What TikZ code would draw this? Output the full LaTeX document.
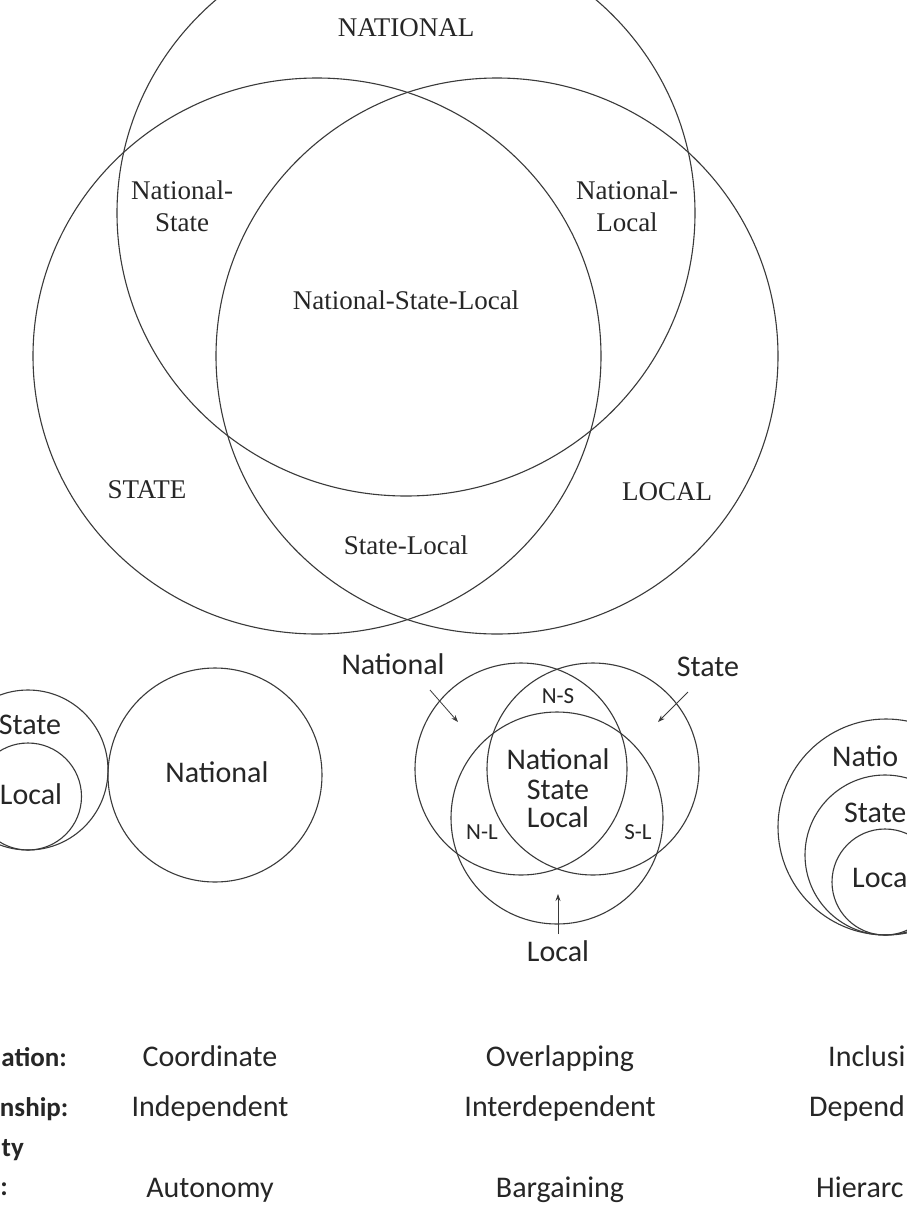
\documentclass[tikz,border=0pt]{standalone}
\usepackage{fontspec}
\setmainfont{Liberation Serif}
\newfontfamily\sansf{Carlito}
\usetikzlibrary{arrows.meta}
\definecolor{linec}{HTML}{3A3A3A}
\definecolor{txt}{HTML}{262626}
\begin{document}
\begin{tikzpicture}[x=1pt,y=-1pt,
  ring/.style={circle,draw=linec,line width=1.1pt,inner sep=0pt,minimum size=#1},
  ringl/.style={draw=linec,line width=1.1pt},
  seriflab/.style={text=txt,font=\fontsize{27}{32}\selectfont,inner sep=0pt,anchor=base},
  sanslab/.style={text=txt,font=\sansf\fontsize{30}{29}\selectfont,inner sep=0pt,anchor=base},
  smalllab/.style={text=txt,font=\sansf\fontsize{23}{26}\selectfont,inner sep=0pt,anchor=base},
  rowlab/.style={text=txt,font=\sansf\bfseries\fontsize{27}{32}\selectfont,inner sep=0pt,anchor=base east},
  arr/.style={draw=linec,line width=0.8pt,-{Stealth[length=7pt,width=5pt]}}
]
\fill[white] (0,0) rectangle (906,1221);
\useasboundingbox (0,0) rectangle (906,1221);

% ---------- top Venn ----------
\coordinate (bigN) at (406,213);
\coordinate (bigS) at (317,356);
\coordinate (bigL) at (497,356);
\draw[ringl] (bigN) ellipse [x radius=289pt, y radius=283pt];
\draw[ringl] (bigS) ellipse [x radius=284pt, y radius=278pt];
\draw[ringl] (bigL) ellipse [x radius=281pt, y radius=278pt];
\node[seriflab] (tN)    at (406,36)  {NATIONAL};
\node[seriflab] (tNS1)  at (182,199) {National-};
\node[seriflab] (tNS2)  at (182,231) {State};
\node[seriflab] (tNL1)  at (627,199) {National-};
\node[seriflab] (tNL2)  at (627,231) {Local};
\node[seriflab] (tNSL)  at (406,309) {National-State-Local};
\node[seriflab] (tS)    at (147,498) {STATE};
\node[seriflab] (tL)    at (667,500) {LOCAL};
\node[seriflab] (tSL)   at (406,554) {State-Local};

% ---------- coordinate model ----------
\node[ring=160pt] (cS) at (28,770) {};
\node[ring=107pt] (cL) at (28,796.5) {};
\node[ring=214pt] (cN) at (215,775) {};
\node[sanslab] (cSt) at (30,734.5) {State};
\node[sanslab] (cLt) at (31,804.5) {Local};
\node[sanslab] (cNt) at (217,782.5) {National};

% ---------- overlapping model ----------
\node[ring=212pt] (oN) at (521,769) {};
\node[ring=212pt] (oS) at (593,769) {};
\node[ring=212pt] (oL) at (557,818) {};
\node[sanslab] (oNt) at (393,674.5) {National};
\node[sanslab] (oSt) at (708,676.5) {State};
\node[sanslab] (oLt) at (558,961.5) {Local};
\node[smalllab] (oNS) at (558,703) {N-S};
\node[smalllab] (oNL) at (482,839) {N-L};
\node[smalllab] (oSLt) at (638,839) {S-L};
\node[sanslab] (oC1) at (558,769.5) {National};
\node[sanslab] (oC2) at (558,799) {State};
\node[sanslab] (oC3) at (558,827.5) {Local};
\coordinate (aN1) at (430,690);
\coordinate (aN2) at (458,722);
\coordinate (aS1) at (688,692);
\coordinate (aS2) at (658,722);
\coordinate (aL1) at (558,934);
\coordinate (aL2) at (558,894);
\draw[arr] (aN1) -- (aN2);
\draw[arr] (aS1) -- (aS2);
\draw[arr] (aL1) -- (aL2);

% ---------- inclusive model ----------
\node[ring=216pt] (iN) at (886,827) {};
\node[ring=160pt] (iS) at (885,855) {};
\node[ring=106pt] (iL) at (885,882) {};
\node[sanslab,anchor=base west] (iNt) at (832,766.5) {Natio};
\node[sanslab,anchor=base west] (iSt) at (844,822.5) {State};
\node[sanslab,anchor=base west] (iLt) at (852,887.5) {Loca};

% ---------- bottom rows ----------
\node[rowlab] (r1l) at (67,1066) {ation:};
\node[rowlab] (r2l) at (68.5,1116) {nship:};
\node[rowlab] (r3a) at (24,1156.5) {ty};
\node[rowlab] (r3b) at (8,1195) {:};

\node[sanslab] (r1a) at (210,1066.5) {Coordinate};
\node[sanslab] (r1b) at (560,1066.5) {Overlapping};
\node[sanslab,anchor=base west] (r1c) at (828,1066.5) {Inclusi};
\node[sanslab] (r2a) at (210,1116.5) {Independent};
\node[sanslab] (r2b) at (560,1116.5) {Interdependent};
\node[sanslab,anchor=base west] (r2c) at (809,1116.5) {Depend};
\node[sanslab] (r3a2) at (210,1197.5) {Autonomy};
\node[sanslab] (r3b2) at (560,1197.5) {Bargaining};
\node[sanslab,anchor=base west] (r3c) at (816,1197.5) {Hierarc};
\end{tikzpicture}
\end{document}
